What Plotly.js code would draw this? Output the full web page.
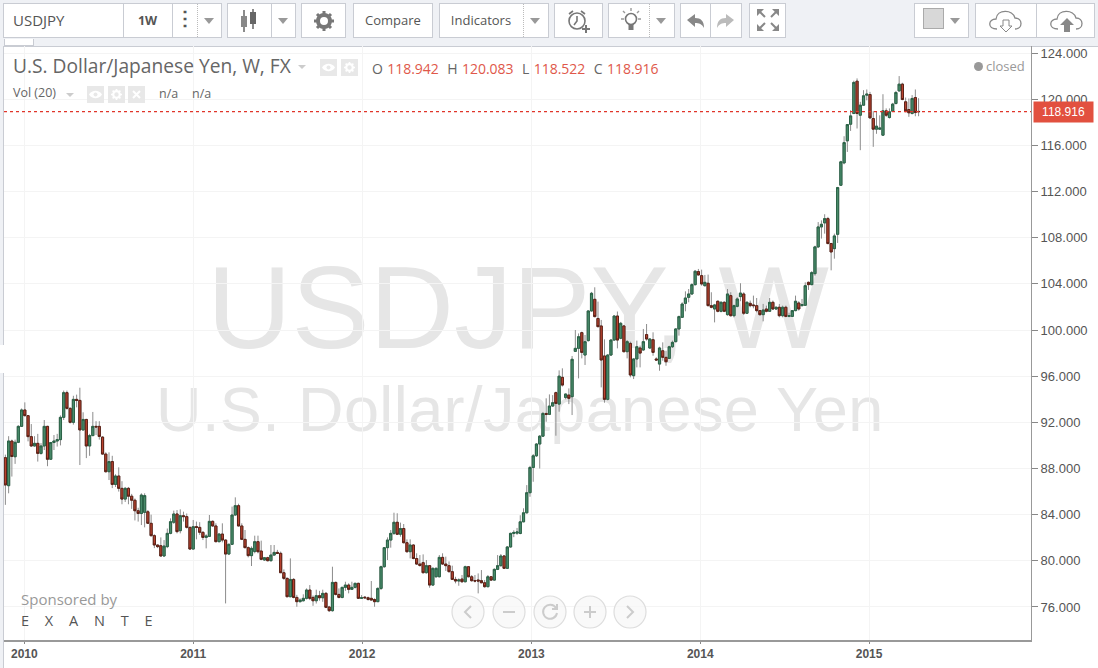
<!DOCTYPE html>
<html>
<head>
<meta charset="utf-8">
<title>USDJPY, W</title>
<script src="https://cdn.plot.ly/plotly-3.0.1.min.js"></script>
<style>
  html, body { margin: 0; padding: 0; background: #eff1f5; overflow: hidden; }
  #page { position: relative; width: 1098px; height: 668px; font-family: "Open Sans", sans-serif; color: #555; }
  #page div, #page svg { position: absolute; }
  #pane { left: 3px; top: 46px; width: 1095px; height: 622px; background: #fff; border-top: 1px solid #c9ccd3; border-left: 1px solid #c9ccd3; box-sizing: border-box; }
  #chart { left: 0; top: 0; width: 1098px; height: 668px; }
  .btn { top: 3px; height: 35px; background: #fff; border: 1px solid #c9ccd3; box-sizing: border-box; }
  .lbl { top: 3px; height: 35px; line-height: 35px; text-align: center; font-size: 13px; color: #555; white-space: nowrap; }
  .sep { top: 4px; height: 33px; width: 0; border-left: 1px solid #c9ccd3; }
  .dot { top: 4px; height: 33px; width: 0; border-left: 1px dotted #bbb; }
  .caret { top: 18px; width: 0; height: 0; border-left: 5px solid transparent; border-right: 5px solid transparent; border-top: 6px solid #999; }
  .wm { color: #e6e6e6; font-family: "Liberation Sans", Arial, sans-serif; white-space: nowrap; line-height: 1; }
  .ico { width: 17px; height: 17px; background: #e8e8e8; }
  .txt { white-space: nowrap; line-height: 1; }
  .up { color: #e0584a; }
</style>
</head>
<body>
<div id="page">
  <div id="pane"></div>
  <div class="wm" style="left:207px;top:249px;font-size:117px;">USDJPY, W</div>
  <div class="wm" style="left:156px;top:378px;font-size:63px;letter-spacing:0.4px;">U.S. Dollar/Japanese Yen</div>
  <div id="chart"></div>

  <!-- toolbar -->
  <div class="btn" style="left:3px;width:219px;"></div>
  <div class="lbl" style="left:13px;font-size:15px;">USDJPY</div>
  <div class="sep" style="left:123px;"></div>
  <div class="lbl" style="left:123px;width:49px;font-weight:700;font-size:12.5px;">1W</div>
  <div class="sep" style="left:172px;"></div>
  <div class="lbl" style="left:172px;width:25px;font-weight:700;font-size:20px;line-height:30px;">⋮</div>
  <div class="dot" style="left:197px;"></div>
  <div class="caret" style="left:204px;"></div>

  <div class="btn" style="left:227px;width:69px;"></div>
  <svg style="left:240px;top:9px;" width="18" height="24"><path d="M4 1v22M13 0v20" stroke="#666" stroke-width="1.5"/><rect x="1" y="7" width="6" height="11" fill="#888"/><rect x="10" y="3" width="6" height="12" fill="#666"/></svg>
  <div class="sep" style="left:271px;"></div>
  <div class="caret" style="left:278px;"></div>

  <div class="btn" style="left:301px;width:45px;"></div>
  <svg style="left:314px;top:11px;" width="20" height="20" viewBox="0 0 20 20"><circle cx="10" cy="10" r="6" fill="none" stroke="#777" stroke-width="4"/><path d="M10 0v4M10 16v4M0 10h4M16 10h4M3 3l3 3M14 14l3 3M17 3l-3 3M6 14l-3 3" stroke="#777" stroke-width="3"/></svg>

  <div class="btn" style="left:353px;width:80px;"></div>
  <div class="lbl" style="left:353px;width:80px;">Compare</div>
  <div class="btn" style="left:439px;width:110px;"></div>
  <div class="lbl" style="left:439px;width:84px;">Indicators</div>
  <div class="dot" style="left:523px;"></div>
  <div class="caret" style="left:530px;"></div>

  <div class="btn" style="left:554px;width:49px;"></div>
  <svg style="left:566px;top:8px;" width="26" height="26" viewBox="0 0 26 26"><circle cx="11" cy="13" r="8" fill="none" stroke="#777" stroke-width="1.6"/><path d="M11 8v5l-3 4M3 6l4-3M15 3l4 3" fill="none" stroke="#777" stroke-width="1.6"/><path d="M20 17v8M16 21h8" stroke="#777" stroke-width="2"/></svg>
  <div class="btn" style="left:608px;width:67px;"></div>
  <svg style="left:620px;top:8px;" width="22" height="26" viewBox="0 0 22 26"><circle cx="11" cy="11" r="5.5" fill="none" stroke="#777" stroke-width="1.6"/><rect x="8.5" y="16" width="5" height="6" fill="#777"/><path d="M11 0v3M1 11h3M18 11h3M3 3l2 2M19 3l-2 2" stroke="#999" stroke-width="1.4"/></svg>
  <div class="dot" style="left:649px;"></div>
  <div class="caret" style="left:656px;"></div>

  <div class="btn" style="left:680px;width:62px;"></div>
  <div class="sep" style="left:710px;"></div>
  <svg style="left:687px;top:14px;" width="18" height="14"><path d="M0 6l8-6v4c6 0 9 3 9 10-2-4-5-5-9-5v4z" fill="#888"/></svg>
  <svg style="left:717px;top:14px;" width="18" height="14"><path d="M17 6l-8-6v4c-6 0-9 3-9 10 2-4 5-5 9-5v4z" fill="#bbb"/></svg>
  <div class="btn" style="left:749px;width:37px;"></div>
  <svg style="left:757px;top:9px;" width="22" height="22"><path d="M0 0h7l-7 7zM22 0v7l-7-7zM0 22v-7l7 7zM22 22h-7l7-7z" fill="#888"/><path d="M3 3l5 5M19 3l-5 5M3 19l5-5M19 19l-5-5" stroke="#888" stroke-width="2"/></svg>

  <div class="btn" style="left:914px;width:55px;"></div>
  <div style="left:923px;top:8px;width:21px;height:21px;background:#d8d8d8;border:1px solid #aaa;box-sizing:border-box;"></div>
  <div class="caret" style="left:950px;"></div>
  <div class="btn" style="left:975px;width:120px;"></div>
  <div class="sep" style="left:1036px;"></div>
  <svg style="left:989px;top:9px;" width="34" height="24" viewBox="0 0 34 24"><path d="M8 20c-10 0-9-10-1-10 1-10 17-10 19-1 8 0 8 11 0 11" fill="none" stroke="#888" stroke-width="1.3"/><path d="M14 11h6v6h3l-6 6-6-6h3z" fill="#fff" stroke="#888"/></svg>
  <svg style="left:1050px;top:9px;" width="34" height="24" viewBox="0 0 34 24"><path d="M8 20c-10 0-9-10-1-10 1-10 17-10 19-1 8 0 8 11 0 11" fill="none" stroke="#888" stroke-width="1.3"/><path d="M14 23v-7h-4l7-7 7 7h-4v7z" fill="#888"/></svg>
  <div style="left:4px;top:39px;width:30px;height:7px;background:#fff;border:1px solid #c9ccd3;border-top:none;box-sizing:border-box;"></div>
  <div style="left:0;top:345px;width:4px;height:28px;background:#fff;"></div>

  <!-- legend -->
  <div class="txt" style="left:13px;top:56px;font-size:19.2px;color:#666;">U.S. Dollar/Japanese Yen, W, FX</div>
  <div class="caret" style="left:298px;top:65px;border-top:4px solid #ccc;border-left-width:4px;border-right-width:4px;"></div>
  <div class="ico" style="left:320px;top:59px;"></div>
  <svg style="left:322px;top:63px;" width="13" height="9"><path d="M0 4.5c3-5 10-5 13 0-3 5-10 5-13 0z" fill="#fff"/><circle cx="6.5" cy="4.5" r="2" fill="#e8e8e8"/></svg>
  <div class="ico" style="left:341px;top:59px;"></div>
  <svg style="left:344px;top:62px;" width="11" height="11" viewBox="0 0 20 20"><circle cx="10" cy="10" r="6" fill="none" stroke="#fff" stroke-width="4"/><path d="M10 0v4M10 16v4M0 10h4M16 10h4M3 3l3 3M14 14l3 3M17 3l-3 3M6 14l-3 3" stroke="#fff" stroke-width="3"/></svg>
  <div class="txt" style="left:372px;top:62px;font-size:14px;color:#666;word-spacing:0.6px;">O <span class="up">118.942</span>&nbsp; H <span class="up">120.083</span>&nbsp; L <span class="up">118.522</span>&nbsp; C <span class="up">118.916</span></div>
  <div class="txt" style="left:13px;top:87px;font-size:12.5px;color:#666;">Vol (20)</div>
  <div class="caret" style="left:66px;top:93px;border-top:4px solid #ccc;border-left-width:4px;border-right-width:4px;"></div>
  <div class="ico" style="left:87px;top:86px;"></div>
  <svg style="left:89px;top:90px;" width="13" height="9"><path d="M0 4.5c3-5 10-5 13 0-3 5-10 5-13 0z" fill="#fff"/><circle cx="6.5" cy="4.5" r="2" fill="#e8e8e8"/></svg>
  <div class="ico" style="left:108px;top:86px;"></div>
  <svg style="left:111px;top:89px;" width="11" height="11" viewBox="0 0 20 20"><circle cx="10" cy="10" r="6" fill="none" stroke="#fff" stroke-width="4"/><path d="M10 0v4M10 16v4M0 10h4M16 10h4M3 3l3 3M14 14l3 3M17 3l-3 3M6 14l-3 3" stroke="#fff" stroke-width="3"/></svg>
  <div class="ico" style="left:128px;top:86px;"></div>
  <svg style="left:132px;top:90px;" width="9" height="9"><path d="M1 1l7 7M8 1l-7 7" stroke="#fff" stroke-width="2"/></svg>
  <div class="txt" style="left:159px;top:88px;font-size:12.5px;color:#666;">n/a</div>
  <div class="txt" style="left:192px;top:88px;font-size:12.5px;color:#666;">n/a</div>
  <div style="left:974px;top:62px;width:9px;height:9px;border-radius:50%;background:#999;"></div>
  <div class="txt" style="left:986px;top:60px;font-size:13px;color:#999;">closed</div>

  <!-- sponsor -->
  <div class="txt" style="left:21px;top:592px;font-size:15px;color:#999;">Sponsored by</div>
  <div class="txt" style="left:21px;top:614px;font-size:14.5px;color:#555;letter-spacing:15.8px;">EXANTE</div>

  <!-- navigation -->
  <svg style="left:450px;top:594px;" width="200" height="36">
    <g fill="#f7f7f7" fill-opacity="0.7" stroke="#ddd" stroke-width="1.2">
      <circle cx="18" cy="18" r="16"/><circle cx="59" cy="18" r="16"/><circle cx="100" cy="18" r="16"/><circle cx="140" cy="18" r="16"/><circle cx="180" cy="18" r="16"/>
    </g>
    <g fill="none" stroke="#ccc" stroke-width="2">
      <path d="M21 12l-6 6 6 6M53 18h12M134 18h12M140 12v12M177 12l6 6-6 6"/>
      <path d="M106 14a7 7 0 1 0 1 5M107 10v5h-5"/>
    </g>
  </svg>
</div>

<script>
// weekly USD/JPY candles
var firstWeek = '2009-11-21';
var opens = [
  88.94,86.51,90.38,89.02,90.27,91.65,93.07,92.58,90.76,89.95,
  90.18,89.31,89.95,91.65,88.8,90.25,90.38,90.5,92.43,94.57,
  93.21,92,93.99,93.9,91.34,92.25,89.95,90.85,91.65,91.65,
  90.72,89.25,87.72,88.6,86.62,87.35,86.28,85.35,86.28,85.6,
  85.25,84.34,84.1,84.2,84.25,83.25,82.18,81.37,81.31,80.42,
  81.23,82.38,83.34,84.06,82.61,83.91,83.83,82.9,81.02,82.96,
  82.9,82.47,82.03,82.12,83.42,83.02,81.66,82.32,81.8,80.59,
  81.43,83.97,84.78,83.02,81.86,81.14,80.45,80.8,81.66,80.85,
  80.07,80.27,80.01,80.5,80.73,80.65,78.97,78.48,76.89,78.39,
  76.83,76.46,76.54,76.75,77.47,76.83,76.54,76.98,76.8,77.18,
  76,75.68,78.13,77.09,76.83,77.7,77.9,77.53,77.7,78.05,
  76.75,76.85,76.8,76.75,76.65,76.46,77.61,79.49,81.14,81.8,
  82.38,83.34,82.3,82.8,81.57,80.79,81.37,80.2,79.72,79.84,
  78.97,79.58,77.9,78.62,78.62,80.3,79.72,79.58,79.06,78.39,
  78.25,78.42,78.19,79.49,78.62,78.28,78.34,78.28,78.1,77.76,
  78.62,78.33,79.26,79.58,80.42,79.35,81.2,82.37,82.4,82.37,
  83.38,84.16,85.9,88.09,89.1,90.12,90.8,92.77,92.69,93.41,
  94.57,93.58,95.9,94.16,94.36,94.22,98.15,98.41,99.77,97.83,
  99.08,101.65,102.66,101,100.35,97.75,93.99,97.83,99.13,101.21,
  99.28,100.35,98.12,98.84,96.04,97.49,98.44,98.27,99.6,98.44,
  99.16,97.49,97.05,98.2,97.63,97.54,98.55,98.99,100.09,101.1,
  102.31,102.83,103.12,103.93,105.06,104.71,103.84,104.05,102.11,101.82,
  102.49,101.62,102.4,101.33,102.98,101.24,102.05,102.89,103.12,101.45,
  102.31,102.17,102.11,101.68,101.33,101.82,101.62,102.4,101.82,101.97,
  101.24,101.97,101.18,101.18,101.68,102.34,102.11,102.14,104.13,103.93,
  104.88,107.2,108.93,109.28,109.65,107.49,107.05,108.29,112.54,114.48,
  116.39,117.83,118.76,121.56,118.61,119.48,120.35,120.4,118.32,117.4,
  117.4,116.88,118.99,118.41,118.96,119.62,120.72,121.3,119.77,119.1,
  118.76,120.14,118.942
];
var highs = [
  89.2,90.8,90.5,90.5,91.75,93.2,93.73,92.6,91.85,90.8,
  91,90.2,92.2,91.7,90.3,90.9,91,92.6,94.75,94.75,
  93.3,94.3,94.4,95,92.87,92.3,91,92.9,92.1,92.1,
  90.8,89.4,89.4,89.1,87.5,88.1,86.9,86.4,86.4,85.8,
  85.4,84.6,85.85,85.85,84.4,84,82.3,81.4,82.03,81.8,
  82.8,83.68,84.35,84.4,84.46,84.26,84.1,82.95,83.54,83.4,
  83.35,82.55,82.3,83.97,83.5,83.25,82.4,83.25,81.85,81.5,
  84.7,85.5,84.95,83.25,82.67,81.25,81.25,82.18,82.18,81.75,
  80.3,80.35,81.37,81.37,80.95,80.8,79.26,78.55,80.21,78.5,
  77.05,76.75,77.1,77.61,77.9,77,77.5,77.4,77.5,77.3,
  76.1,79.49,78.2,77.61,77.75,78.19,78.05,78.19,78.1,78.1,
  77.03,76.95,76.9,78.25,76.75,77.7,79.58,81.2,82.03,82.67,
  84.17,84.12,83.31,83.19,81.86,81.86,81.43,80.65,80.5,80.56,
  80.07,79.62,79.43,79.43,80.5,80.65,80.36,79.95,79.58,78.62,
  78.48,78.77,79.58,79.54,78.77,78.77,78.91,79.2,78.34,78.77,
  78.68,79.35,80.5,80.59,80.5,81.28,82.44,82.65,82.85,83.95,
  84.55,86.56,88.23,89.25,90.2,90.9,92.9,94.08,94.42,94.36,
  94.66,96.5,96.68,94.5,94.94,97.75,100,99.7,99.86,99.57,
  101.7,103.3,103.7,102.46,100.87,99.19,97.9,99.2,101.3,101.6,
  100.7,100.44,99.13,98.99,97.55,99.08,98.65,100.09,100.52,99.3,
  99.8,97.63,98.55,98.93,98.2,98.64,99.08,100.15,101.25,102.4,
  103.35,103.55,104.05,105.2,105.29,105.23,104.77,104.8,103.27,102.26,
  102.55,102.49,102.49,103.55,103.27,102.2,102.84,104.05,103.27,102.49,
  102.55,102.98,102.77,101.73,102.26,102.11,102.77,102.55,102.03,102.26,
  102.11,102.11,101.5,101.73,102.98,102.49,102.69,104.13,104.2,105.1,
  107.3,109.35,109.5,110.03,109.8,107.55,108.35,112.4,114.66,116.79,
  117.83,119.04,121.6,121.8,119.77,120.78,120.84,120.63,118.96,118.96,
  118.6,120.43,119.2,119.2,119.68,120.72,122,121.42,120.14,120.06,
  120.35,120.84,120.083
];
var lows = [
  84.85,85.85,87.3,88.4,90.2,91.6,92.5,90.35,89.9,89.9,
  88.6,89.2,89.6,88.2,88.75,89.6,89.9,90,92.2,93.1,
  91.9,91.8,93.3,88.3,91.3,88.9,89.1,90.8,90.9,90.5,
  89.2,87.65,87,86.3,86.4,86,84.9,85.1,84.9,84.5,
  83.5,83.4,83.1,82.9,83.2,82.1,81.1,81.1,80.35,80.35,
  81.1,82.3,83.2,82.38,82.38,83.4,82.8,81,81,81.86,
  82.25,81.8,81.08,82.1,82.95,81.6,81.6,81.6,76.31,80.5,
  81.4,83.9,83,81.8,81.1,80.3,79.55,80.65,80.65,80.05,
  80,79.95,79.95,80.45,80.6,78.95,78.35,76.85,76.85,76.75,
  76.02,76.4,76.48,76.65,76.6,76.1,76.3,76.55,76.45,75.9,
  75.57,75.6,77,76.75,76.75,77.4,77.18,77.47,77.6,76.7,
  76.7,76.7,76.55,76.6,76.02,76.43,77.47,79.4,80.07,81.14,
  82.24,82.24,82.09,81.51,80.71,80.21,80.13,79.64,79.49,78.91,
  78.9,77.67,77.82,78.55,78.57,79.64,79.12,79,78.34,78.05,
  77.84,78.1,78.13,78.57,78.19,78.13,77.18,78.05,77.67,77.7,
  78.25,78.28,79.2,79.49,79.29,79.29,81.14,82.05,82.25,82.3,
  83.35,84.1,85.55,86.85,89,88,90.75,92.05,92.63,93.35,
  90.84,92.92,95.1,94,93.58,92.63,98.1,95.81,97.54,96.97,
  99,101.6,101.1,100.23,95.03,93.7,93.9,97.75,99.05,98.41,
  99.2,98.06,97.54,95.9,95.75,96.76,96.76,98.2,99.08,98.35,
  97.77,97.34,96.47,97.34,96.9,97.49,98.44,98.93,99.51,101.04,
  101.62,102.4,103.06,103.84,104.71,103.84,103.76,102.05,101.88,100.66,
  101.53,101.53,101.55,101.24,101.16,101.1,101.96,102.49,101.3,101.39,
  101.97,101.88,101.53,101.24,100.75,101.53,101.59,101.73,101.73,101.1,
  101.1,101.1,101.1,101.15,101.62,101.68,102.05,102.11,103.47,103.87,
  104.7,107.1,107.92,108.35,107.43,105.17,106.18,107.54,112.48,114.36,
  115.43,117.25,118.7,117.46,115.58,119.42,119.9,118.32,115.87,117,
  117.35,116.82,118.47,118.32,118.9,119.56,120.63,119.91,118.85,118.47,
  118.67,118.52,118.522
];
var closes = [
  86.57,90.38,89.04,90.27,91.65,93.07,92.58,90.76,89.95,90.18,
  89.31,89.95,91.65,88.8,90.25,90.38,90.5,92.43,94.57,93.21,
  92,93.99,93.9,91.34,92.25,89.95,90.85,91.65,91.6,90.78,
  89.25,87.72,88.6,86.62,87.35,86.28,85.35,86.28,85.6,85.25,
  84.34,84.1,85.7,85.65,83.25,82.18,81.37,81.23,80.42,81.28,
  82.38,83.39,84.06,82.53,83.91,83.83,82.9,81.02,82.96,82.9,
  82.47,82.03,82.15,83.42,83.02,81.66,82.32,81.8,80.59,81.43,
  83.97,84.78,83.02,81.86,81.14,80.45,81.08,81.66,80.79,80.13,
  80.27,80.01,80.5,80.73,80.65,78.97,78.48,76.89,78.39,76.83,
  76.46,76.6,76.75,77.47,76.75,76.54,76.98,76.8,77.18,75.97,
  75.68,78.13,77.09,76.83,77.7,77.9,77.53,77.7,78.05,76.75,
  76.8,76.8,76.65,76.6,76.46,77.61,79.49,81.14,81.8,82.38,
  83.34,82.3,82.8,81.57,80.79,81.37,80.2,79.72,79.6,78.97,
  79.58,77.9,79.35,79.35,80.3,79.72,79.58,79.06,78.39,78.25,
  78.34,78.19,79.49,78.62,78.28,78.25,78.25,78.1,77.76,78.62,
  78.33,79.26,79.58,80.42,79.35,81.2,82.38,82.46,82.5,83.38,
  84.16,85.9,88.09,89.1,90.12,90.8,92.77,92.69,93.41,93.7,
  93.64,96,95.23,94.45,94.08,97.46,98.41,99.42,98.06,98.99,
  101.65,103.18,101.16,100.29,97.4,93.99,97.83,99.13,101.21,99.13,
  100.58,98.12,98.99,96.1,97.49,98.55,98,98.99,99.22,99.22,
  98.06,97.4,98.44,97.63,97.25,98.55,98.93,100.09,101.16,102.25,
  102.77,103.12,103.93,105.09,104.77,103.99,104.13,102.11,101.97,102.17,
  101.62,102.4,101.62,103.12,101.24,102.11,102.69,103.2,101.45,102.4,
  102.11,102.11,101.68,101.33,101.73,101.62,102.4,101.82,101.97,101.24,
  101.97,101.18,101.24,101.68,102.49,101.82,102.2,103.84,103.93,104.97,
  107.2,108.93,109.16,109.65,107.49,106.76,108.15,112.34,114.57,116.24,
  117.8,118.55,121.45,118.76,119.48,120.29,120.43,118.38,117.4,117.66,
  117.5,118.99,118.61,118.9,119.57,120.58,121.3,119.97,118.99,118.82,
  120.06,118.84,118.916
];
var lastPrice = 118.916;
var yearTicks = ['2010-01-01','2011-01-01','2012-01-01','2013-01-01','2014-01-01','2015-01-01'];
var yearLabels = ['2010','2011','2012','2013','2014','2015'];

var UP = '#4b8c6c', UP_EDGE = '#2a6347', DOWN = '#bb4330', DOWN_EDGE = '#5a2015', WICK = '#8c8c8c';

// the bars are a plain weekly calendar
var start = Date.parse(firstWeek + 'T00:00:00Z');
var weeks = opens.map(function (v, i) {
  return new Date(start + i * 7 * 864e5).toISOString().slice(0, 10);
});
var bodyTop = opens.map(function (o, i) { return Math.max(o, closes[i]); });
var bodyBot = opens.map(function (o, i) { return Math.min(o, closes[i]); });

var wicks = {
  type: 'candlestick', x: weeks, open: opens, high: highs, low: lows, close: closes,
  increasing: { line: { color: WICK, width: 1 }, fillcolor: UP },
  decreasing: { line: { color: WICK, width: 1 }, fillcolor: DOWN },
  hoverinfo: 'skip', showlegend: false
};
// second pass: bodies only, so the outline can be darker than the wick
var bodies = {
  type: 'candlestick', x: weeks, open: opens, high: bodyTop, low: bodyBot, close: closes,
  increasing: { line: { color: UP_EDGE, width: 1 }, fillcolor: UP },
  decreasing: { line: { color: DOWN_EDGE, width: 1 }, fillcolor: DOWN },
  showlegend: false
};

var layout = {
  width: 1098, height: 668,
  margin: { l: 4, r: 67, t: 46, b: 28 },
  paper_bgcolor: 'rgba(0,0,0,0)',
  plot_bgcolor: 'rgba(0,0,0,0)',
  showlegend: false,
  boxmode: 'overlay',
  boxgap: 0.05,
  xaxis: {
    type: 'date', range: ['2009-11-18', '2015-12-17'],
    rangeslider: { visible: false },
    tickmode: 'array', tickvals: yearTicks, ticktext: yearLabels,
    ticks: 'outside', ticklen: 2, tickcolor: '#888',
    tickfont: { family: 'Liberation Sans, Arial, sans-serif', size: 12, color: '#555', weight: 700 },
    showgrid: true, gridcolor: '#f4f4f4', gridwidth: 1,
    showline: true, linecolor: '#999', linewidth: 1.5, fixedrange: true
  },
  yaxis: {
    side: 'right', range: [73.14, 124.607],
    tick0: 76, dtick: 4, tickformat: '.3f',
    ticks: 'outside', ticklen: 6, tickcolor: '#888',
    tickfont: { family: 'Liberation Sans, Arial, sans-serif', size: 13, color: '#555' },
    showgrid: true, gridcolor: '#f4f4f4', gridwidth: 1, zeroline: false,
    showline: true, linecolor: '#999', linewidth: 1, fixedrange: true
  },
  shapes: [{
    type: 'line', xref: 'paper', x0: 0, x1: 1, yref: 'y', y0: lastPrice, y1: lastPrice,
    line: { color: '#e0352a', width: 1.2, dash: 'dot' }
  }],
  annotations: [{
    xref: 'paper', x: 1, xanchor: 'left', xshift: 2, yref: 'y', y: lastPrice,
    text: lastPrice.toFixed(3), showarrow: false,
    bgcolor: '#e2503f', borderpad: 3,
    font: { family: 'Liberation Sans, Arial, sans-serif', size: 12, color: '#fff' },
    width: 53, align: 'center'
  }]
};

Plotly.newPlot('chart', [wicks, bodies], layout, { displayModeBar: false, staticPlot: true });
</script>
</body>
</html>
